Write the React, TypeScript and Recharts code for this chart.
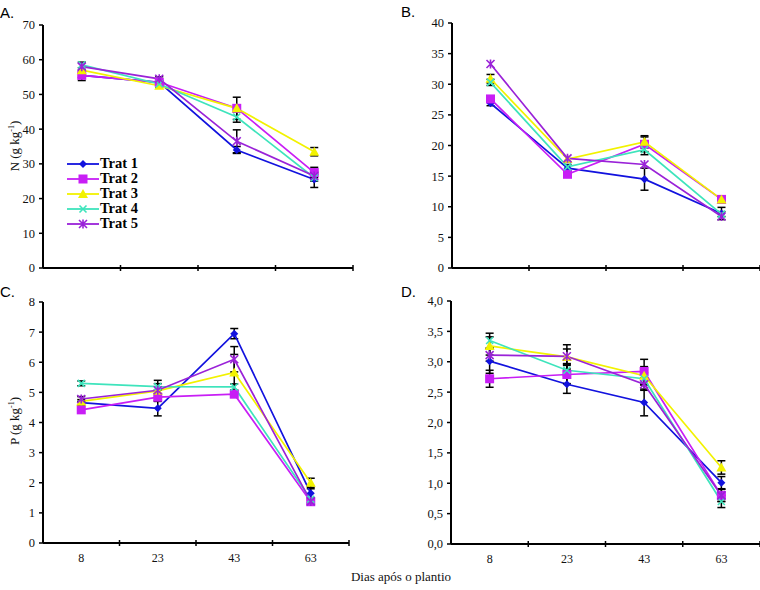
import { LineChart, Line, XAxis, YAxis, ErrorBar, Legend } from "recharts";

const DAYS = ["8", "23", "43", "63"];
const TRATS = ["Trat 1", "Trat 2", "Trat 3", "Trat 4", "Trat 5"];
const COLORS = ["#1212DE", "#C81EF5", "#F2F200", "#3EE4BC", "#9A22D8"];
const SHAPES = ["diamond", "square", "triangle", "cross", "star"];

// A. N (g kg-1)
const A_VALUES = [
  [55.5, 53.5, 34, 25.5],
  [55.5, 53.5, 46, 27.5],
  [57, 52.5, 46, 33.5],
  [58.5, 53, 43.5, 26],
  [58, 54.5, 36.5, 26.5],
];
const A_ERRORS = [
  [0.6, 0.5, 1, 2.3],
  [1.5, 0, 3.2, 1.5],
  [0, 0.5, 0, 1.2],
  [0.8, 0, 1.5, 1],
  [0, 0.6, 3.3, 0],
];

// B.
const B_VALUES = [
  [26.9, 16.3, 14.5, 8.9],
  [27.6, 15.3, 20.2, 11.2],
  [30.9, 17.8, 20.6, 11.2],
  [30.3, 16.5, 19.3, 8.8],
  [33.3, 17.9, 16.9, 8.4],
];
const B_ERRORS = [
  [0.4, 0.6, 1.8, 1],
  [0, 0, 1.2, 0.5],
  [0.7, 0, 1, 0.5],
  [0.5, 0, 0.8, 0.4],
  [0, 0, 0, 0],
];

// C. P (g kg-1)
const C_VALUES = [
  [4.66, 4.47, 6.95, 1.65],
  [4.42, 4.84, 4.94, 1.37],
  [4.7, 5.05, 5.66, 2.0],
  [5.3, 5.19, 5.18, 1.45],
  [4.78, 5.07, 6.1, 1.38],
];
const C_ERRORS = [
  [0.1, 0.25, 0.17, 0.15],
  [0, 0, 0, 0],
  [0, 0.35, 0.6, 0.15],
  [0.08, 0.1, 0.1, 0],
  [0.08, 0, 0.42, 0.05],
];

// D.
const D_VALUES = [
  [3.01, 2.63, 2.33, 1.01],
  [2.72, 2.79, 2.84, 0.8],
  [3.26, 3.08, 2.77, 1.26],
  [3.35, 2.86, 2.72, 0.7],
  [3.11, 3.09, 2.63, 0.8],
];
const D_ERRORS = [
  [0.2, 0.15, 0.22, 0.1],
  [0.14, 0.15, 0.2, 0.1],
  [0.15, 0.2, 0.15, 0.11],
  [0.12, 0.1, 0.1, 0.1],
  [0.1, 0.12, 0.1, 0.1],
];

const A_TICKS = [0, 10, 20, 30, 40, 50, 60, 70];
const B_TICKS = [0, 5, 10, 15, 20, 25, 30, 35, 40];
const C_TICKS = [0, 1, 2, 3, 4, 5, 6, 7, 8];
const D_TICKS = [0, 0.5, 1, 1.5, 2, 2.5, 3, 3.5, 4];

const SERIF = "Liberation Serif, DejaVu Serif, serif";
const SANS = "Liberation Sans, Arial, sans-serif";

function buildRows(values: number[][], errors: number[][]) {
  return DAYS.map((day, i) => {
    const row: Record<string, string | number> = { day };
    values.forEach((v, s) => {
      row[`v${s}`] = v[i];
      row[`e${s}`] = errors[s][i];
    });
    return row;
  });
}

function Marker({ shape, color, cx, cy }: any) {
  if (cx == null || cy == null) return null;
  switch (shape) {
    case "diamond":
      return <path d={`M${cx},${cy - 4}L${cx + 4},${cy}L${cx},${cy + 4}L${cx - 4},${cy}Z`} fill={color} />;
    case "square":
      return <rect x={cx - 4.5} y={cy - 4.5} width={9} height={9} fill={color} />;
    case "triangle":
      return <path d={`M${cx},${cy - 5}L${cx + 5},${cy + 4}L${cx - 5},${cy + 4}Z`} fill={color} />;
    case "cross":
      return (
        <path d={`M${cx - 3.5},${cy - 3.5}L${cx + 3.5},${cy + 3.5}M${cx + 3.5},${cy - 3.5}L${cx - 3.5},${cy + 3.5}`} stroke={color} strokeWidth={1.6} />
      );
    default:
      return (
        <path
          d={`M${cx - 4},${cy - 4}L${cx + 4},${cy + 4}M${cx + 4},${cy - 4}L${cx - 4},${cy + 4}M${cx},${cy - 4.5}L${cx},${cy + 4.5}`}
          stroke={color}
          strokeWidth={1.6}
        />
      );
  }
}

function LegendBox() {
  return (
    <div style={{ fontFamily: SERIF, fontWeight: "bold", fontSize: 14.5, color: "#000" }}>
      {TRATS.map((name, i) => (
        <div key={name} style={{ display: "flex", alignItems: "center", height: 15 }}>
          <svg width={34} height={14} style={{ display: "block" }}>
            <line x1={1} y1={7} x2={33} y2={7} stroke={COLORS[i]} strokeWidth={1.8} />
            <Marker shape={SHAPES[i]} color={COLORS[i]} cx={17} cy={7} />
          </svg>
          <span style={{ lineHeight: "15px", height: 15, overflow: "visible" }}>{name}</span>
        </div>
      ))}
    </div>
  );
}

type PanelProps = {
  left: number;
  top: number;
  width: number;
  height: number;
  margin: { top: number; right: number; bottom: number; left: number };
  yWidth: number;
  xHeight: number;
  values: number[][];
  errors: number[][];
  ticks: number[];
  showDays?: boolean;
  comma?: boolean;
  legend?: boolean;
};

function Panel(p: PanelProps) {
  const data = buildRows(p.values, p.errors);
  const plotWidth = p.width - p.margin.left - p.margin.right - p.yWidth;
  const band = plotWidth / DAYS.length;

  const DayTick = ({ x, y, payload }: any) => (
    <g>
      <line x1={x + band / 2} y1={y - 3} x2={x + band / 2} y2={y + 3} stroke="#000" strokeWidth={1.5} />
      {p.showDays && (
        <text x={x} y={y + 19} textAnchor="middle" fontFamily={SERIF} fontSize={12} fill="#111">
          {payload.value}
        </text>
      )}
    </g>
  );

  return (
    <div style={{ position: "absolute", left: p.left, top: p.top }}>
      <LineChart width={p.width} height={p.height} data={data} margin={p.margin}>
        <XAxis
          dataKey="day"
          scale="band"
          height={p.xHeight}
          axisLine={{ stroke: "#000", strokeWidth: 2 }}
          tickLine={false}
          tickSize={0}
          tickMargin={0}
          tick={<DayTick />}
          interval={0}
        />
        <YAxis
          width={p.yWidth}
          domain={[p.ticks[0], p.ticks[p.ticks.length - 1]]}
          ticks={p.ticks}
          interval={0}
          axisLine={{ stroke: "#000", strokeWidth: 2 }}
          tickLine={{ stroke: "#000", strokeWidth: 1.5 }}
          tickSize={4}
          tickMargin={4}
          tick={{ fontFamily: SERIF, fontSize: 12.5, fill: "#111" }}
          tickFormatter={(v: number) => (p.comma ? v.toFixed(1).replace(".", ",") : String(v))}
        />
        {p.legend && (
          <Legend
            layout="horizontal"
            verticalAlign="middle"
            align="center"
            content={() => <LegendBox />}
            wrapperStyle={{ left: 66, top: 156, width: 100 }}
          />
        )}
        {TRATS.map((name, s) => (
          <Line
            key={name}
            name={name}
            dataKey={`v${s}`}
            stroke={COLORS[s]}
            strokeWidth={1.7}
            isAnimationActive={false}
            dot={(d: any) => <Marker key={`${name}-${d.index}`} shape={SHAPES[s]} color={COLORS[s]} cx={d.cx} cy={d.cy} />}
            activeDot={false}
          >
            <ErrorBar dataKey={`e${s}`} direction="y" width={4} stroke="#000" strokeWidth={1.5} />
          </Line>
        ))}
      </LineChart>
    </div>
  );
}

export default function App() {
  return (
    <div style={{ position: "absolute", left: 0, top: 0, width: 760, height: 590, background: "#fff" }}>
      <Panel
        left={0}
        top={0}
        width={380}
        height={280}
        margin={{ top: 25, right: 27, bottom: 0, left: 0 }}
        yWidth={43}
        xHeight={12}
        values={A_VALUES}
        errors={A_ERRORS}
        ticks={A_TICKS}
        legend
      />
      <Panel
        left={380}
        top={0}
        width={380}
        height={280}
        margin={{ top: 23, right: 0, bottom: 0, left: 0 }}
        yWidth={72}
        xHeight={12}
        values={B_VALUES}
        errors={B_ERRORS}
        ticks={B_TICKS}
      />
      <Panel
        left={0}
        top={280}
        width={380}
        height={290}
        margin={{ top: 22, right: 31, bottom: 0, left: 0 }}
        yWidth={43}
        xHeight={27}
        values={C_VALUES}
        errors={C_ERRORS}
        ticks={C_TICKS}
        showDays
      />
      <Panel
        left={380}
        top={280}
        width={380}
        height={290}
        margin={{ top: 21, right: 0, bottom: 0, left: 0 }}
        yWidth={71}
        xHeight={26}
        values={D_VALUES}
        errors={D_ERRORS}
        ticks={D_TICKS}
        showDays
        comma
      />
      <svg width={760} height={590} style={{ position: "absolute", left: 0, top: 0, pointerEvents: "none" }}>
        <text x={0} y={18} fontFamily={SANS} fontSize={15} fill="#000">A.</text>
        <text x={401} y={17} fontFamily={SANS} fontSize={15} fill="#000">B.</text>
        <text x={0} y={297} fontFamily={SANS} fontSize={15} fill="#000">C.</text>
        <text x={401} y={297} fontFamily={SANS} fontSize={15} fill="#000">D.</text>
        <text x={19} y={146} transform="rotate(-90 19 146)" textAnchor="middle" fontFamily={SERIF} fontSize={13} fill="#111">
          N (g kg<tspan dy={-5} fontSize={8}>-1</tspan>
          <tspan dy={5}>)</tspan>
        </text>
        <text x={19} y={421} transform="rotate(-90 19 421)" textAnchor="middle" fontFamily={SERIF} fontSize={13} fill="#111">
          P (g kg<tspan dy={-5} fontSize={8}>-1</tspan>
          <tspan dy={5}>)</tspan>
        </text>
        <text x={401} y={581} textAnchor="middle" fontFamily={SERIF} fontSize={13} fill="#111">
          Dias após o plantio
        </text>
      </svg>
    </div>
  );
}
